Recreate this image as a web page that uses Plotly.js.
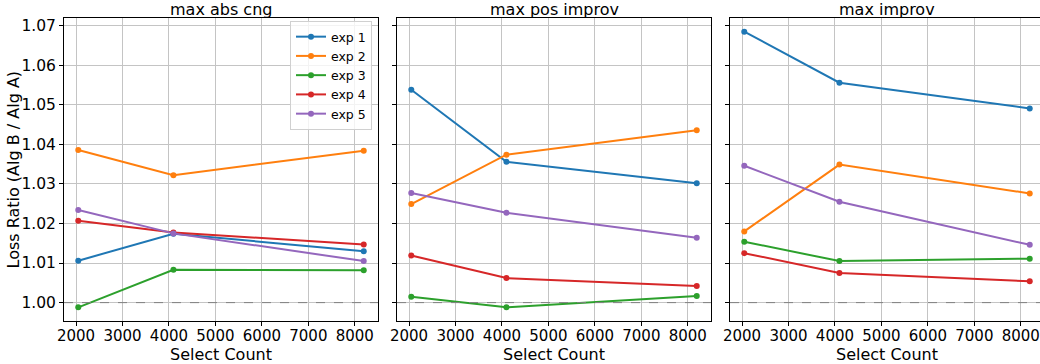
<!DOCTYPE html>
<html><head><meta charset="utf-8">
<script src="https://cdn.plot.ly/plotly-3.0.1.min.js"></script>
<style>html,body{margin:0;padding:0;overflow:hidden;background:#fff;}#chart{width:1046px;height:364px;}</style>
</head><body><div id="chart"></div>
<script>
const selectCounts = [2048, 4096, 8192];
const panelTitles = ["max abs cng", "max pos improv", "max improv"];
const xTitle = "Select Count";
const yTitle = "Loss Ratio (Alg B / Alg A)";
const seriesNames = ["exp 1", "exp 2", "exp 3", "exp 4", "exp 5"];
const colors = ["#1f77b4", "#ff7f0e", "#2ca02c", "#d62728", "#9467bd"];

const maxAbsCng = [
  [1.0106, 1.0174, 1.0130],
  [1.0386, 1.0322, 1.0384],
  [0.9988, 1.0083, 1.0082],
  [1.0207, 1.0177, 1.0147],
  [1.0234, 1.0175, 1.0105]
];
const maxPosImprov = [
  [1.0538, 1.0356, 1.0302],
  [1.0249, 1.0374, 1.0436],
  [1.0015, 0.9988, 1.0017],
  [1.0119, 1.0062, 1.0042],
  [1.0277, 1.0227, 1.0164]
];
const maxImprov = [
  [1.0685, 1.0556, 1.0491],
  [1.0180, 1.0349, 1.0276],
  [1.0154, 1.0105, 1.0111],
  [1.0125, 1.0075, 1.0054],
  [1.0346, 1.0255, 1.0146]
];
const panels = [maxAbsCng, maxPosImprov, maxImprov];

const font = {family: "DejaVu Sans", color: "#000"};
const traces = [];
panels.forEach((panel, p) => {
  panel.forEach((vals, i) => {
    traces.push({
      x: selectCounts, y: vals, type: "scatter", mode: "lines+markers",
      name: seriesNames[i], legendgroup: seriesNames[i], showlegend: p === 0,
      xaxis: p === 0 ? "x" : "x" + (p + 1), yaxis: p === 0 ? "y" : "y" + (p + 1),
      line: {color: colors[i], width: 2}, marker: {color: colors[i], size: 6}
    });
  });
});

const W = 980;
const domains = [[0, 314 / W], [333 / W, 647 / W], [666 / W, 1]];
const layout = {
  width: 1046, height: 364,
  margin: {l: 64, r: 2, t: 18, b: 43},
  paper_bgcolor: "#fff", plot_bgcolor: "#fff",
  font: Object.assign({size: 14}, font),
  showlegend: true,
  legend: {
    x: 308 / W, xanchor: "right", y: 0.99, yanchor: "top",
    bgcolor: "rgba(255,255,255,0.8)", bordercolor: "#d0d0d0", borderwidth: 1,
    font: Object.assign({size: 12.5}, font), tracegroupgap: 0, itemwidth: 30
  },
  annotations: [{
    text: yTitle, xref: "paper", yref: "paper", x: 0, y: 0.5,
    xanchor: "center", yanchor: "middle", xshift: -51, textangle: -90,
    showarrow: false, font: Object.assign({size: 16}, font)
  }],
  shapes: []
};
for (let p = 0; p < 3; p++) {
  const xk = p === 0 ? "xaxis" : "xaxis" + (p + 1);
  const yk = p === 0 ? "yaxis" : "yaxis" + (p + 1);
  const xr = p === 0 ? "x" : "x" + (p + 1);
  const yr = p === 0 ? "y" : "y" + (p + 1);
  layout[xk] = {
    domain: domains[p], anchor: yr, range: [1740.8, 8499.2],
    tickvals: [2000, 3000, 4000, 5000, 6000, 7000, 8000],
    showgrid: true, gridcolor: "#c4c4c4", gridwidth: 1, zeroline: false,
    showline: true, linecolor: "#000", linewidth: 1, mirror: true,
    ticks: "outside", ticklen: 4, tickcolor: "#000", ticklabelstandoff: -3,
    tickfont: Object.assign({size: 15}, font)
  };
  layout[yk] = {
    domain: [0, 1], anchor: xr, range: [0.99535, 1.07195],
    tickvals: [1.00, 1.01, 1.02, 1.03, 1.04, 1.05, 1.06, 1.07],
    ticktext: ["1.00", "1.01", "1.02", "1.03", "1.04", "1.05", "1.06", "1.07"],
    showticklabels: p === 0,
    showgrid: true, gridcolor: "#c4c4c4", gridwidth: 1, zeroline: false,
    showline: true, linecolor: "#000", linewidth: 1, mirror: true,
    ticks: "outside", ticklen: 4, tickcolor: "#000",
    tickfont: Object.assign({size: 15.5}, font)
  };
  layout.annotations.push({
    text: panelTitles[p], xref: xr + " domain", yref: "paper",
    x: 0.5, y: 1, yanchor: "middle", yshift: 9, showarrow: false,
    font: Object.assign({size: 16}, font)
  });
  layout.annotations.push({
    text: xTitle, xref: xr + " domain", yref: "paper",
    x: 0.5, y: 0, yanchor: "middle", yshift: -33, showarrow: false,
    font: Object.assign({size: 16}, font)
  });
  layout.shapes.push({
    type: "line", xref: xr + " domain", yref: yr, x0: 0, x1: 1, y0: 1, y1: 1,
    line: {color: "#808080", width: 1, dash: "dash"}
  });
}
Plotly.newPlot("chart", traces, layout, {displayModeBar: false, staticPlot: true});
</script></body></html>
